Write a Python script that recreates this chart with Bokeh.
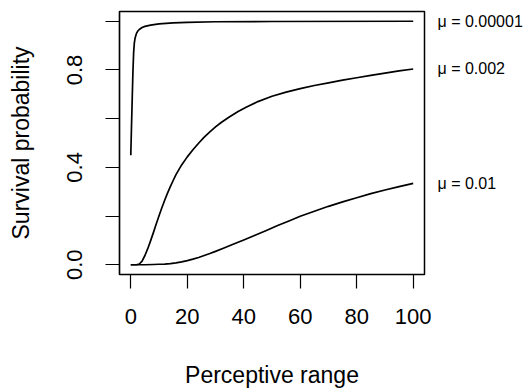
from bokeh.plotting import figure
from bokeh.models import Range1d, LinearAxis, FixedTicker
from bokeh.embed import file_html
from bokeh.resources import INLINE

# mu = 0.00001
x_low_mu = [0, 0.25, 0.5, 0.75, 1, 1.25, 1.5, 2, 2.5, 3, 4, 5, 7, 10, 15, 20, 30, 50, 100]
y_low_mu = [0.45, 0.57, 0.68, 0.79, 0.87, 0.91, 0.93, 0.95, 0.96, 0.966, 0.974, 0.979, 0.984, 0.989, 0.993, 0.995, 0.998, 0.999, 1.0]

# mu = 0.002
x_mid_mu = [0, 2, 3, 4, 5, 6, 7, 8, 9, 10, 11, 12, 13, 14, 15, 16, 18, 20, 22, 24, 26, 28, 30, 32,
            35, 38, 41, 45, 50, 55, 60, 65, 70, 75, 80, 85, 90, 95, 100]
y_mid_mu = [0, 0, 0.003, 0.015, 0.038, 0.066, 0.098, 0.132, 0.167, 0.201, 0.234, 0.265, 0.294, 0.321,
            0.346, 0.37, 0.41, 0.443, 0.472, 0.499, 0.524, 0.546, 0.566, 0.584,
            0.608, 0.629, 0.648, 0.67, 0.692, 0.709, 0.723, 0.736, 0.747, 0.758, 0.768, 0.778, 0.787, 0.796, 0.804]

# mu = 0.01
x_high_mu = [0, 5, 8, 10, 12, 14, 16, 18, 20, 22, 24, 26, 28, 30, 33, 36, 40, 44, 48, 52, 56, 60,
             65, 70, 75, 80, 85, 90, 95, 100]
y_high_mu = [0, 0, 0.001, 0.002, 0.003, 0.005, 0.008, 0.012, 0.017, 0.023, 0.03, 0.038, 0.046, 0.055,
             0.069, 0.083, 0.102, 0.121, 0.141, 0.161, 0.18, 0.199, 0.22, 0.24, 0.258, 0.275, 0.292,
             0.307, 0.321, 0.334]

series_labels = ["\u03bc = 0.00001", "\u03bc = 0.002", "\u03bc = 0.01"]

x_ticks = [0, 20, 40, 60, 80, 100]
x_tick_labels = ["0", "20", "40", "60", "80", "100"]
y_ticks = [0.0, 0.2, 0.4, 0.6, 0.8, 1.0]
y_tick_labels = ["0.0", "", "0.4", "", "0.8", ""]

FONT = "Liberation Sans"

p = figure(width=531, height=392, output_backend="svg", toolbar_location=None,
           x_range=Range1d(-4, 104), y_range=Range1d(-0.04, 1.04),
           min_border_left=119, min_border_right=107, min_border_top=11, min_border_bottom=118)
p.grid.visible = False
p.outline_line_color = "black"
p.outline_line_width = 1.5
p.outline_line_alpha = 1.0

for xs, ys in [(x_low_mu, y_low_mu), (x_mid_mu, y_mid_mu), (x_high_mu, y_high_mu)]:
    p.line(xs, ys, line_color="black", line_width=1.7, line_join="round")

xa = p.xaxis[0]
xa.ticker = FixedTicker(ticks=x_ticks)
xa.major_label_overrides = {t: l for t, l in zip(x_ticks, x_tick_labels)}
xa.axis_label = "Perceptive range"

ya = p.yaxis[0]
ya.ticker = FixedTicker(ticks=y_ticks)
ya.major_label_overrides = {t: l for t, l in zip(y_ticks, y_tick_labels)}
ya.axis_label = "Survival probability"
ya.major_label_orientation = "vertical"

for ax in (xa, ya):
    ax.axis_line_color = "black"
    ax.axis_line_width = 1.2
    ax.major_tick_line_color = "black"
    ax.major_tick_line_width = 1.2
    ax.major_tick_out = 14
    ax.major_tick_in = 0
    ax.minor_tick_line_color = None
    ax.major_label_text_font = FONT
    ax.major_label_text_font_size = "22px"
    ax.major_label_text_color = "black"
    ax.axis_label_text_font = FONT
    ax.axis_label_text_font_size = "23px"
    ax.axis_label_text_font_style = "normal"
    ax.axis_label_text_color = "black"

xa.major_label_standoff = 20
xa.axis_label_standoff = 35
ya.major_label_standoff = 23
ya.axis_label_standoff = 31

ends = [y_low_mu[-1], y_mid_mu[-1], y_high_mu[-1]]
ra = LinearAxis(ticker=FixedTicker(ticks=ends),
                major_label_overrides={v: s for v, s in zip(ends, series_labels)})
ra.axis_line_color = None
ra.major_tick_line_color = None
ra.minor_tick_line_color = None
ra.major_tick_out = 0
ra.major_tick_in = 0
ra.major_label_standoff = 13
ra.major_label_text_font = FONT
ra.major_label_text_font_size = "16px"
ra.major_label_text_color = "black"
p.add_layout(ra, "right")

open("out.html", "w").write(file_html(p, INLINE))
